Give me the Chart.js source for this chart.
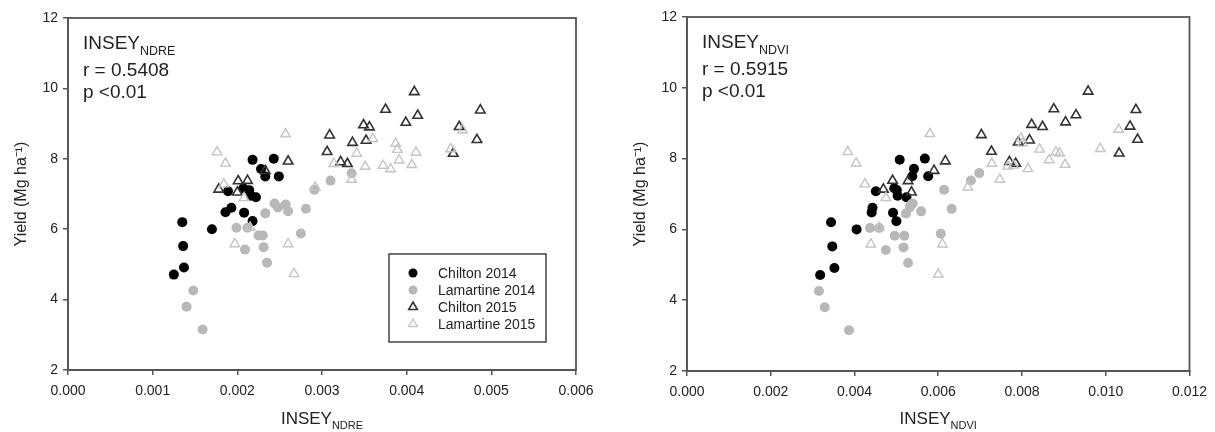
<!doctype html>
<html lang="en">
<head>
<meta charset="utf-8">
<title>Yield vs INSEY</title>
<script src="https://cdn.jsdelivr.net/npm/chart.js@4.4.0/dist/chart.umd.min.js"></script>
<style>
  html, body { margin: 0; padding: 0; background: #fff; }
  .wrap { position: absolute; top: 0; height: 432px; }
  #left { left: 0; width: 606px; }
  #right { left: 619px; width: 596px; }
  canvas { display: block; }
</style>
</head>
<body>
<div class="wrap" id="left"><canvas id="c1" width="606" height="432"></canvas></div>
<div class="wrap" id="right"><canvas id="c2" width="596" height="432"></canvas></div>
<script>
// yields are shared, x values differ per index
var seriesNames = ['Chilton 2014', 'Lamartine 2014', 'Chilton 2015', 'Lamartine 2015'];

var chilton14Yield = [7.97, 8.0, 7.71, 7.5, 7.5, 7.08, 7.16, 7.11, 6.95, 6.91, 6.61, 6.48, 6.47, 6.23, 6.0, 6.2, 5.52, 4.91, 4.71];
var chilton14Ndre = [0.00218, 0.00243, 0.00228, 0.00233, 0.00249, 0.00189, 0.00207, 0.00214, 0.00216, 0.00222, 0.00193, 0.00186, 0.00208, 0.00218, 0.0017, 0.00135, 0.00136, 0.00137, 0.00125];
var chilton14Ndvi = [0.00508, 0.00568, 0.00542, 0.00538, 0.00576, 0.00451, 0.00495, 0.00501, 0.00503, 0.00524, 0.00443, 0.00441, 0.00492, 0.005, 0.00405, 0.00344, 0.00347, 0.00352, 0.00318];

var lamartine14Yield = [7.59, 7.38, 7.12, 6.58, 6.73, 6.70, 6.62, 6.51, 6.45, 6.04, 6.04, 5.82, 5.82, 5.88, 5.42, 5.49, 5.05, 4.26, 3.80, 3.15];
var lamartine14Ndre = [0.00335, 0.0031, 0.00291, 0.00281, 0.00244, 0.00257, 0.00248, 0.0026, 0.00233, 0.00199, 0.00212, 0.00225, 0.0023, 0.00275, 0.00209, 0.00231, 0.00235, 0.00148, 0.0014, 0.00159];
var lamartine14Ndvi = [0.00698, 0.00678, 0.00614, 0.00632, 0.00539, 0.00535, 0.00532, 0.00559, 0.00523, 0.00437, 0.00459, 0.00496, 0.00519, 0.00606, 0.00475, 0.00517, 0.00528, 0.00315, 0.00329, 0.00387];

var chilton15Yield = [9.9, 9.4, 9.38, 9.23, 9.03, 8.96, 8.91, 8.9, 8.67, 8.54, 8.52, 8.46, 8.15, 8.2, 7.93, 7.91, 7.86, 7.66, 7.38, 7.37, 7.13, 7.05];
var chilton15Ndre = [0.00409, 0.00375, 0.00487, 0.00413, 0.00399, 0.00349, 0.00462, 0.00356, 0.00309, 0.00483, 0.00352, 0.00336, 0.00455, 0.00306, 0.0026, 0.00322, 0.0033, 0.00233, 0.00212, 0.00201, 0.00178, 0.002];
var chilton15Ndvi = [0.00958, 0.00876, 0.01072, 0.00929, 0.00904, 0.00823, 0.01058, 0.00849, 0.00703, 0.01076, 0.00818, 0.00791, 0.01032, 0.00727, 0.00617, 0.0077, 0.00785, 0.0059, 0.00491, 0.00528, 0.00469, 0.00536];

var lamartine15Yield = [8.82, 8.70, 8.57, 8.43, 8.28, 8.26, 8.19, 8.18, 7.96, 7.87, 7.83, 7.86, 7.78, 7.71, 7.41, 8.15, 7.81, 7.28, 7.19, 6.89, 6.05, 5.58, 5.58, 4.73];
var lamartine15Ndre = [0.00466, 0.00257, 0.0036, 0.00387, 0.00452, 0.00389, 0.00176, 0.00411, 0.00391, 0.00186, 0.00406, 0.00314, 0.00351, 0.00381, 0.00335, 0.00341, 0.00372, 0.00184, 0.00292, 0.00208, 0.00215, 0.00197, 0.0026, 0.00267];
var lamartine15Ndvi = [0.01031, 0.0058, 0.00798, 0.00801, 0.00987, 0.00842, 0.00384, 0.00881, 0.00865, 0.00404, 0.00903, 0.00728, 0.00766, 0.00814, 0.00747, 0.0089, 0.0078, 0.00425, 0.00671, 0.00475, 0.00459, 0.00439, 0.0061, 0.006];

var yTicks = [2, 4, 6, 8, 10, 12];

var FONT = '"Liberation Sans", Arial, Helvetica, sans-serif';
var AXIS = '#555';
var TEXT = '#222';

function pts(xs, ys) {
  return xs.map(function (x, i) { return { x: x, y: ys[i] }; });
}

var styles = [
  { pointStyle: 'circle', radius: 5, backgroundColor: '#000', borderColor: '#000', borderWidth: 0 },
  { pointStyle: 'circle', radius: 5, backgroundColor: '#b8b8b8', borderColor: '#b8b8b8', borderWidth: 0 },
  { pointStyle: 'triangle', radius: 5.5, backgroundColor: 'rgba(0,0,0,0)', borderColor: '#333', borderWidth: 1.6 },
  { pointStyle: 'triangle', radius: 5.5, backgroundColor: 'rgba(0,0,0,0)', borderColor: '#c4c4c4', borderWidth: 1.4 }
];

function makeSets(xLists) {
  var yLists = [chilton14Yield, lamartine14Yield, chilton15Yield, lamartine15Yield];
  return xLists.map(function (xs, i) {
    var s = styles[i];
    return {
      label: seriesNames[i],
      data: pts(xs, yLists[i]),
      pointStyle: s.pointStyle,
      pointRadius: s.radius,
      pointBackgroundColor: s.backgroundColor,
      pointBorderColor: s.borderColor,
      pointBorderWidth: s.borderWidth,
      order: 4 - i
    };
  });
}

// frame, corner text and x title with subscript
var textPlugin = {
  id: 'texts',
  afterDraw: function (chart, args, opts) {
    var ctx = chart.ctx, a = chart.chartArea;
    ctx.save();
    ctx.strokeStyle = AXIS;
    ctx.lineWidth = 1.8;
    ctx.strokeRect(a.left, a.top, a.right - a.left, a.bottom - a.top);

    ctx.fillStyle = TEXT;
    ctx.textAlign = 'left';
    ctx.textBaseline = 'alphabetic';
    var x = a.left + 15;
    ctx.font = '19px ' + FONT;
    ctx.fillText('INSEY', x, a.top + 31);
    var w = ctx.measureText('INSEY').width;
    ctx.font = '12.5px ' + FONT;
    ctx.fillText(opts.sub, x + w, a.top + 37);
    ctx.font = '19px ' + FONT;
    ctx.fillText(opts.r, x, a.top + 58);
    ctx.fillText('p <0.01', x, a.top + 80);

    ctx.font = '17px ' + FONT;
    var w1 = ctx.measureText('INSEY').width;
    ctx.font = '11px ' + FONT;
    var w2 = ctx.measureText(opts.sub).width;
    var cx = (a.left + a.right) / 2 - (w1 + w2) / 2;
    ctx.font = '17px ' + FONT;
    ctx.fillText('INSEY', cx, 424);
    ctx.font = '11px ' + FONT;
    ctx.fillText(opts.sub, cx + w1, 429);
    ctx.restore();
  }
};

var legendPlugin = {
  id: 'boxLegend',
  afterDraw: function (chart, args, opts) {
    if (!opts.show) return;
    var ctx = chart.ctx, a = chart.chartArea;
    var bx = a.right - 187, by = a.bottom - 116, bw = 157, bh = 88;
    ctx.save();
    ctx.fillStyle = '#fff';
    ctx.fillRect(bx, by, bw, bh);
    ctx.strokeStyle = '#444';
    ctx.lineWidth = 1.5;
    ctx.strokeRect(bx, by, bw, bh);
    ctx.font = '14px ' + FONT;
    ctx.textBaseline = 'middle';
    ctx.textAlign = 'left';
    seriesNames.forEach(function (name, i) {
      var s = styles[i];
      var mx = bx + 24, my = by + 19 + i * 17;
      ctx.beginPath();
      if (s.pointStyle === 'circle') {
        ctx.arc(mx, my, 4.5, 0, Math.PI * 2);
        ctx.fillStyle = s.backgroundColor;
        ctx.fill();
      } else {
        var r = 5;
        for (var k = 0; k < 3; k++) {
          var ang = k * 2 * Math.PI / 3;
          var px = mx + Math.sin(ang) * r, py = my - Math.cos(ang) * r;
          if (k === 0) ctx.moveTo(px, py); else ctx.lineTo(px, py);
        }
        ctx.closePath();
        ctx.strokeStyle = s.borderColor;
        ctx.lineWidth = s.borderWidth;
        ctx.stroke();
      }
      ctx.fillStyle = TEXT;
      ctx.fillText(name, bx + 49, my + 1);
    });
    ctx.restore();
  }
};

function makeChart(id, xLists, xMax, xStep, opts) {
  return new Chart(document.getElementById(id), {
    type: 'scatter',
    data: { datasets: makeSets(xLists) },
    plugins: [textPlugin, legendPlugin],
    options: {
      responsive: false,
      animation: false,
      events: [],
      layout: { padding: { top: opts.top, right: opts.right, left: 0, bottom: 0 } },
      plugins: {
        legend: { display: false },
        tooltip: { enabled: false },
        texts: { sub: opts.sub, r: opts.r },
        boxLegend: { show: opts.legend }
      },
      scales: {
        x: {
          type: 'linear',
          min: 0,
          max: xMax,
          ticks: {
            stepSize: xStep,
            autoSkip: false,
            maxRotation: 0,
            padding: 8,
            color: TEXT,
            font: { family: FONT, size: 14 },
            callback: function (v) { return v.toFixed(3); }
          },
          grid: { drawOnChartArea: false, drawTicks: true, tickLength: 5, color: AXIS, lineWidth: 1.5 },
          border: { display: true, color: AXIS, width: 1.8 },
          afterFit: function (s) { s.height = opts.xh; }
        },
        y: {
          type: 'linear',
          min: yTicks[0],
          max: yTicks[yTicks.length - 1],
          afterBuildTicks: function (s) { s.ticks = yTicks.map(function (v) { return { value: v }; }); },
          ticks: { padding: 5, color: TEXT, font: { family: FONT, size: 14 } },
          grid: { drawOnChartArea: false, drawTicks: true, tickLength: 5, color: AXIS, lineWidth: 1.5 },
          border: { display: true, color: AXIS, width: 1.8 },
          title: {
            display: true,
            text: 'Yield (Mg ha\u207B\u00B9)',
            color: TEXT,
            font: { family: FONT, size: 16 },
            padding: { top: opts.tp, bottom: 0 }
          },
          afterFit: function (s) { s.width = 68; }
        }
      }
    }
  });
}

makeChart('c1', [chilton14Ndre, lamartine14Ndre, chilton15Ndre, lamartine15Ndre], 0.006, 0.001,
  { sub: 'NDRE', r: 'r = 0.5408', legend: true, top: 18, right: 30, xh: 62, tp: 12 });
makeChart('c2', [chilton14Ndvi, lamartine14Ndvi, chilton15Ndvi, lamartine15Ndvi], 0.012, 0.002,
  { sub: 'NDVI', r: 'r = 0.5915', legend: false, top: 17, right: 24, xh: 61, tp: 12 });
</script>
</body>
</html>
